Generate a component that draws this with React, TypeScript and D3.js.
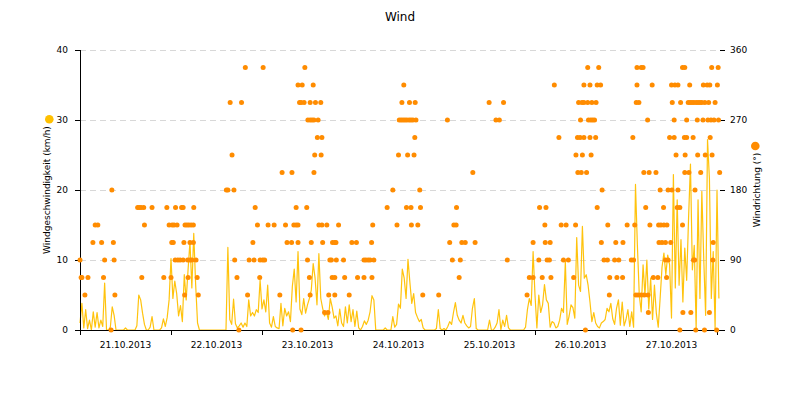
import React from 'react';
import * as d3 from 'd3';

// ---- data ----
const START = Date.UTC(2013, 9, 21, 0, 0); // 21.10.2013 00:00
const HOUR = 3600000;
const STEP_MINUTES = 30;
const X_END_HOURS = 168.79;

const speedTicks = [0, 10, 20, 30, 40];
const directionTicks = [0, 90, 180, 270, 360];

// wind speed (km/h), one value every 30 minutes, per day
const speed21 = [1.0, 3.8, 0.3, 2.9, 0.2, 1.4, 0, 2.6, 0.4, 2.5, 0.3, 1.4, 0.5, 6.7, 0, 0, 0.4, 3.3, 2.1, 0, 0, 0, 0, 0, 0.3, 0, 0, 0, 0, 0, 0.6, 5.0, 4.3, 2.4, 0.8, 0, 0, 0.4, 1.9, 0, 0, 0, 0, 0.3, 1.6, 0.5, 1.8, 4.3];
const speed22 = [10.2, 4.5, 7.0, 5.2, 2.0, 3.5, 1.2, 7.9, 4.3, 8.6, 12.6, 6.0, 13.8, 6.5, 1.0, 0, 0, 0, 0, 0, 0, 0, 0, 0, 0, 0, 0, 0, 0, 0, 11.8, 1.5, 0.8, 4.4, 0.9, 0.3, 0.6, 1.0, 0.4, 1.0, 0.5, 4.3, 2.0, 2.5, 2.0, 2.9, 2.5, 7.1];
const speed23 = [3.0, 4.3, 2.6, 6.4, 1.0, 0.4, 1.9, 0.5, 0.3, 0.2, 3.8, 0.6, 3.1, 2.0, 2.6, 1.2, 6.2, 8.7, 4.0, 11.2, 3.0, 2.2, 4.5, 2.4, 3.6, 4.5, 5.7, 9.5, 7.4, 3.6, 10.9, 4.5, 3.1, 2.0, 2.6, 1.5, 4.5, 3.3, 1.7, 2.0, 0.6, 3.0, 1.0, 0.5, 3.3, 1.0, 3.6, 1.2];
const speed24 = [2.9, 0.5, 2.7, 0.3, 0, 0.5, 1.3, 0.8, 1.4, 2.6, 4.9, 4.3, 0, 0, 0, 0, 0, 0.3, 0, 0, 0, 1.9, 0.4, 0.8, 3.7, 3.1, 8.7, 7.4, 4.5, 10.1, 6.8, 3.8, 5.2, 2.5, 1.8, 1.2, 1.5, 0.3, 0, 0, 0, 0, 0, 0, 0.2, 2.9, 0.2, 0];
const speed25 = [0.2, 0, 0.5, 1.2, 0.8, 2.5, 3.9, 2.1, 1.4, 1.0, 2.1, 1.0, 0.6, 0.3, 0.5, 3.1, 4.5, 0.2, 0, 0, 0, 0, 0, 0, 1.4, 0, 0, 0.4, 1.0, 2.9, 0, 1.4, 0.5, 2.1, 0.3, 0, 0, 0, 0, 0, 0, 0, 0, 0.4, 2.9, 4.5, 3.5, 11.2];
const speed26 = [5.0, 0.3, 5.0, 2.5, 3.6, 6.5, 4.3, 3.8, 0.4, 1.2, 1.0, 0.3, 0.5, 1.4, 3.1, 2.5, 9.8, 0.8, 2.0, 3.6, 3.2, 1.7, 13.2, 6.4, 5.5, 14.8, 7.4, 7.9, 6.4, 4.0, 1.2, 2.5, 1.0, 0.5, 0.3, 1.0, 1.2, 1.5, 3.1, 2.6, 3.8, 1.6, 0.8, 3.1, 4.3, 0.7, 4.0, 0.6];
const speed27 = [1.5, 2.9, 0.5, 2.6, 0.4, 20.8, 12.1, 5.0, 2.6, 9.3, 5.0, 10.0, 3.0, 7.4, 1.5, 6.4, 2.4, 0.4, 4.5, 9.0, 11.0, 7.9, 10.7, 9.3, 1.7, 22.2, 6.0, 18.6, 6.4, 12.9, 4.0, 11.7, 7.1, 16.0, 23.7, 8.6, 12.1, 0.2, 18.6, 4.5, 19.8, 10.2, 2.1, 27.2, 21.6, 4.5, 11.2, 0.2];
const speed28 = [20.0, 4.5];

// wind direction: [hours since 21.10.2013 00:00, degrees]
const windDirection: [number, number][] = [
  [0.0, 90], [0.3, 67.5], [0.5, 67.5], [1.3, 45], [2.1, 67.5], [3.4, 112.5], [4.0, 135], [4.7, 135], [5.7, 112.5], [6.2, 67.5], [6.5, 90], [8.2, 0], [8.4, 180], [8.8, 112.5], [9.0, 90], [9.2, 45],
  [15.2, 157.5], [15.6, 157.5], [16.1, 157.5], [16.3, 67.5], [16.8, 157.5], [17.0, 135], [19.0, 157.5], [22.1, 67.5], [22.9, 157.5], [23.5, 135], [24.0, 67.5], [24.2, 112.5], [24.3, 135], [24.6, 112.5], [24.8, 135], [25.1, 90], [25.2, 157.5], [25.6, 135], [25.8, 90], [26.4, 90], [26.8, 157.5], [27.2, 90], [27.2, 157.5], [27.4, 112.5], [27.6, 45], [27.7, 135], [28.2, 135], [28.4, 90], [28.5, 67.5], [28.7, 135], [29.0, 90], [29.0, 112.5], [29.3, 135], [29.5, 90], [29.9, 135], [29.9, 112.5], [30.0, 157.5], [30.6, 90], [30.9, 67.5], [31.2, 45],
  [38.6, 180], [39.0, 180], [39.6, 292.5], [40.1, 225], [40.6, 180], [40.8, 90], [41.4, 67.5], [41.9, 0], [42.6, 292.5], [43.6, 337.5], [44.2, 45], [44.6, 90], [45.6, 112.5], [45.9, 90], [46.2, 157.5], [46.8, 135], [47.4, 67.5], [47.5, 90], [48.2, 90], [48.3, 337.5], [48.7, 90], [49.6, 135], [51.2, 135], [52.7, 45], [53.3, 202.5], [54.2, 135], [54.6, 112.5], [55.8, 112.5], [55.9, 202.5], [56.1, 0], [56.4, 135], [57.0, 135], [57.0, 157.5], [57.5, 135], [57.5, 112.5], [57.5, 315], [57.9, 292.5], [58.3, 0], [58.3, 292.5], [58.6, 315], [59.1, 292.5], [59.3, 337.5], [59.8, 157.5], [60.0, 90], [60.1, 270], [60.5, 67.5], [60.7, 292.5], [60.7, 270], [60.7, 45], [61.0, 112.5], [61.2, 270], [61.5, 315], [61.7, 270], [61.7, 202.5], [61.9, 225], [62.1, 292.5], [62.6, 247.5], [62.8, 270], [63.0, 135], [63.5, 292.5], [63.6, 225], [63.8, 247.5], [63.8, 135], [64.0, 112.5], [64.5, 22.5], [65.1, 135], [65.4, 22.5], [65.6, 45], [65.9, 90], [66.3, 90], [66.5, 67.5], [66.6, 112.5], [67.2, 67.5], [67.2, 112.5], [67.2, 45],
  [67.5, 112.5], [67.6, 90], [68.2, 135], [69.5, 90], [69.8, 67.5], [71.0, 45], [71.7, 112.5], [72.9, 112.5], [73.2, 67.5], [74.9, 90], [74.9, 67.5], [75.4, 90], [76.0, 90], [76.5, 90], [76.9, 112.5], [77.0, 67.5], [77.2, 135], [77.5, 90], [81.0, 157.5], [82.5, 180], [83.6, 135], [84.0, 225], [84.2, 270], [84.7, 270], [84.9, 292.5], [85.2, 270], [85.4, 315], [85.7, 270], [86.1, 157.5], [86.2, 270], [86.4, 225], [86.8, 270], [86.9, 292.5], [87.3, 270], [87.3, 157.5], [87.4, 135], [87.8, 270], [88.1, 225], [88.3, 247.5], [88.4, 292.5], [88.6, 270], [89.1, 135], [89.6, 180], [89.8, 157.5], [90.4, 45], [94.6, 45], [96.9, 270], [97.5, 112.5], [98.2, 90], [98.6, 135], [99.2, 135], [99.3, 157.5], [100.0, 67.5], [100.3, 90], [100.7, 112.5],
  [101.6, 112.5], [103.6, 202.5], [104.2, 112.5], [107.9, 292.5], [109.7, 270], [110.6, 270], [111.7, 292.5], [112.7, 90], [117.9, 45], [118.5, 67.5], [119.5, 67.5], [119.5, 112.5], [121.0, 90], [121.2, 157.5], [121.9, 67.5], [122.6, 135], [122.7, 112.5], [122.9, 157.5], [123.2, 90], [123.8, 90], [124.0, 112.5], [124.2, 67.5], [125.1, 315], [126.3, 247.5], [126.9, 135], [127.5, 90], [128.2, 135], [128.8, 90], [130.2, 67.5], [130.7, 135], [130.8, 225], [131.2, 247.5], [131.3, 202.5], [131.5, 292.5], [131.9, 247.5], [132.0, 270], [132.2, 202.5], [132.4, 292.5], [132.5, 225], [132.9, 247.5], [132.9, 292.5], [132.9, 315], [133.3, 0], [133.6, 202.5], [133.9, 292.5], [133.9, 337.5], [134.1, 270], [134.5, 315], [134.5, 247.5], [134.7, 270], [134.8, 225],
  [135.0, 292.5], [135.2, 270], [135.7, 270], [136.0, 247.5], [136.1, 292.5], [136.4, 315], [136.4, 157.5], [136.8, 337.5], [137.3, 315], [137.5, 112.5], [137.7, 180], [138.2, 90], [139.1, 90], [139.2, 135], [139.6, 45], [139.7, 67.5], [141.0, 90], [141.3, 112.5], [141.6, 67.5], [142.1, 90], [143.1, 67.5], [143.2, 112.5], [144.3, 135], [145.4, 90], [145.8, 247.5], [146.0, 90], [146.3, 135], [146.6, 45], [146.7, 292.5], [146.9, 337.5], [146.9, 315], [147.2, 45], [147.4, 292.5], [148.0, 337.5], [148.0, 45], [148.5, 337.5], [148.7, 202.5], [148.8, 45], [149.2, 157.5], [149.7, 270], [149.8, 45], [149.9, 22.5], [150.1, 202.5], [150.3, 135], [150.9, 315], [151.2, 67.5], [151.9, 202.5], [152.4, 67.5], [152.6, 135], [152.7, 112.5], [153.0, 180], [153.2, 135], [153.5, 112.5], [153.9, 157.5], [154.0, 135], [154.4, 112.5], [154.4, 90], [154.7, 67.5], [154.8, 135], [155.1, 180], [155.1, 90], [155.5, 247.5], [155.8, 112.5], [156.0, 315], [156.1, 180], [156.2, 292.5], [156.7, 270], [156.7, 247.5], [156.9, 315], [157.2, 225], [157.5, 157.5], [157.7, 315], [157.7, 180], [158.2, 157.5], [158.2, 0], [158.4, 292.5], [158.9, 337.5], [158.9, 135], [159.0, 22.5], [159.4, 247.5], [159.5, 337.5], [159.5, 202.5], [159.6, 225], [160.0, 270], [160.0, 247.5], [160.4, 292.5], [160.6, 202.5], [160.8, 315], [160.9, 292.5], [161.1, 22.5], [161.4, 292.5], [161.7, 247.5], [161.8, 90], [161.9, 292.5], [162.1, 90], [162.2, 180], [162.4, 0], [162.5, 292.5], [162.8, 270], [162.9, 225], [163.0, 292.5], [163.5, 292.5], [163.7, 202.5], [164.0, 292.5], [164.3, 270], [164.4, 315], [164.7, 0], [164.8, 292.5], [164.9, 225], [165.4, 315], [165.6, 270], [165.8, 292.5], [166.0, 22.5], [166.1, 315], [166.2, 247.5], [166.4, 270], [166.6, 337.5], [166.7, 225], [166.9, 90], [167.0, 112.5], [167.2, 270], [167.5, 292.5], [167.9, 0], [168.1, 315], [168.3, 337.5], [168.4, 270], [168.7, 202.5],
];

const SPEED_COLOR = '#FFC000';
const DIR_COLOR = '#FF8C00';
const FONT = '"DejaVu Sans", Verdana, sans-serif';

export default function App() {
  const W = 800, H = 400;
  const left = 80, right = 720, top = 50, bottom = 330;

  const x = d3.scaleUtc()
    .domain([new Date(START), new Date(START + X_END_HOURS * HOUR)])
    .range([left, right]);
  const ySpeed = d3.scaleLinear().domain([0, 40]).range([bottom, top]);
  const yDir = d3.scaleLinear().domain([0, 360]).range([bottom, top]);

  const speedValues = [...speed21, ...speed22, ...speed23, ...speed24, ...speed25, ...speed26, ...speed27, ...speed28];
  const speedData = speedValues.map((v, i) => ({ t: new Date(START + i * STEP_MINUTES * 60000), v }));
  const line = d3.line<{ t: Date; v: number }>()
    .x(d => x(d.t))
    .y(d => ySpeed(d.v));

  const endDate = x.domain()[1];
  const dayTicks = d3.utcDay.range(new Date(START), new Date(endDate.getTime() + 1));
  const fmt = d3.utcFormat('%d.%m.%Y');
  const labelDays = dayTicks.filter(d => d.getTime() + 12 * HOUR < endDate.getTime());

  return (
    <svg width={W} height={H} style={{ position: 'absolute', left: 0, top: 0, background: '#fff' }} fontFamily={FONT}>
      <rect x={0} y={0} width={W} height={H} fill="#fff" />
      <text x={400} y={21} textAnchor="middle" fontSize={12} fill="#000">Wind</text>

      {/* grid */}
      {speedTicks.filter(t => t > 0).map(t => (
        <line key={'g' + t} x1={left} x2={right} y1={ySpeed(t) + 0.5} y2={ySpeed(t) + 0.5}
          stroke="#d8d8d8" strokeDasharray="6,4" strokeWidth={1} />
      ))}

      {/* wind speed line */}
      <path d={line(speedData) || ''} fill="none" stroke={SPEED_COLOR} strokeWidth={1.2} strokeLinejoin="round" opacity={0.95} />

      {/* axes */}
      <line x1={left + 0.5} x2={left + 0.5} y1={top} y2={bottom} stroke="#000" />
      <line x1={left} x2={right} y1={bottom + 0.5} y2={bottom + 0.5} stroke="#000" />
      {speedTicks.map(t => (
        <g key={'l' + t}>
          <line x1={left - 5} x2={left} y1={ySpeed(t) + 0.5} y2={ySpeed(t) + 0.5} stroke="#000" />
          <text x={68} y={ySpeed(t)} dy="0.35em" textAnchor="end" fontSize={9} fill="#000">{t}</text>
        </g>
      ))}
      {directionTicks.map(t => (
        <g key={'r' + t}>
          <line x1={right} x2={right + 5} y1={yDir(t) + 0.5} y2={yDir(t) + 0.5} stroke="#000" />
          <text x={730} y={yDir(t)} dy="0.35em" textAnchor="start" fontSize={9} fill="#000">{t}</text>
        </g>
      ))}
      {dayTicks.map(d => (
        <line key={'t' + d.getTime()} x1={Math.round(x(d)) + 0.5} x2={Math.round(x(d)) + 0.5} y1={bottom} y2={bottom + 5} stroke="#000" />
      ))}
      {labelDays.map(d => (
        <text key={'x' + d.getTime()} x={x(new Date(d.getTime() + 12 * HOUR))} y={348} textAnchor="middle" fontSize={9} fill="#000">
          {fmt(d)}
        </text>
      ))}

      {/* wind direction dots */}
      {windDirection.map(([h, deg], i) => (
        <circle key={'d' + i} cx={x(new Date(START + h * HOUR))} cy={yDir(deg)} r={2.5} fill={DIR_COLOR} />
      ))}

      {/* axis titles */}
      <circle cx={49.3} cy={119.3} r={4.3} fill={SPEED_COLOR} />
      <text transform="translate(50,190) rotate(-90)" textAnchor="middle" fontSize={9} fill="#000">Windgeschwindigkeit (km/h)</text>
      <circle cx={755.3} cy={146} r={4.3} fill={DIR_COLOR} />
      <text transform="translate(760,190) rotate(-90)" textAnchor="middle" fontSize={9} fill="#000">Windrichtung (°)</text>
    </svg>
  );
}
